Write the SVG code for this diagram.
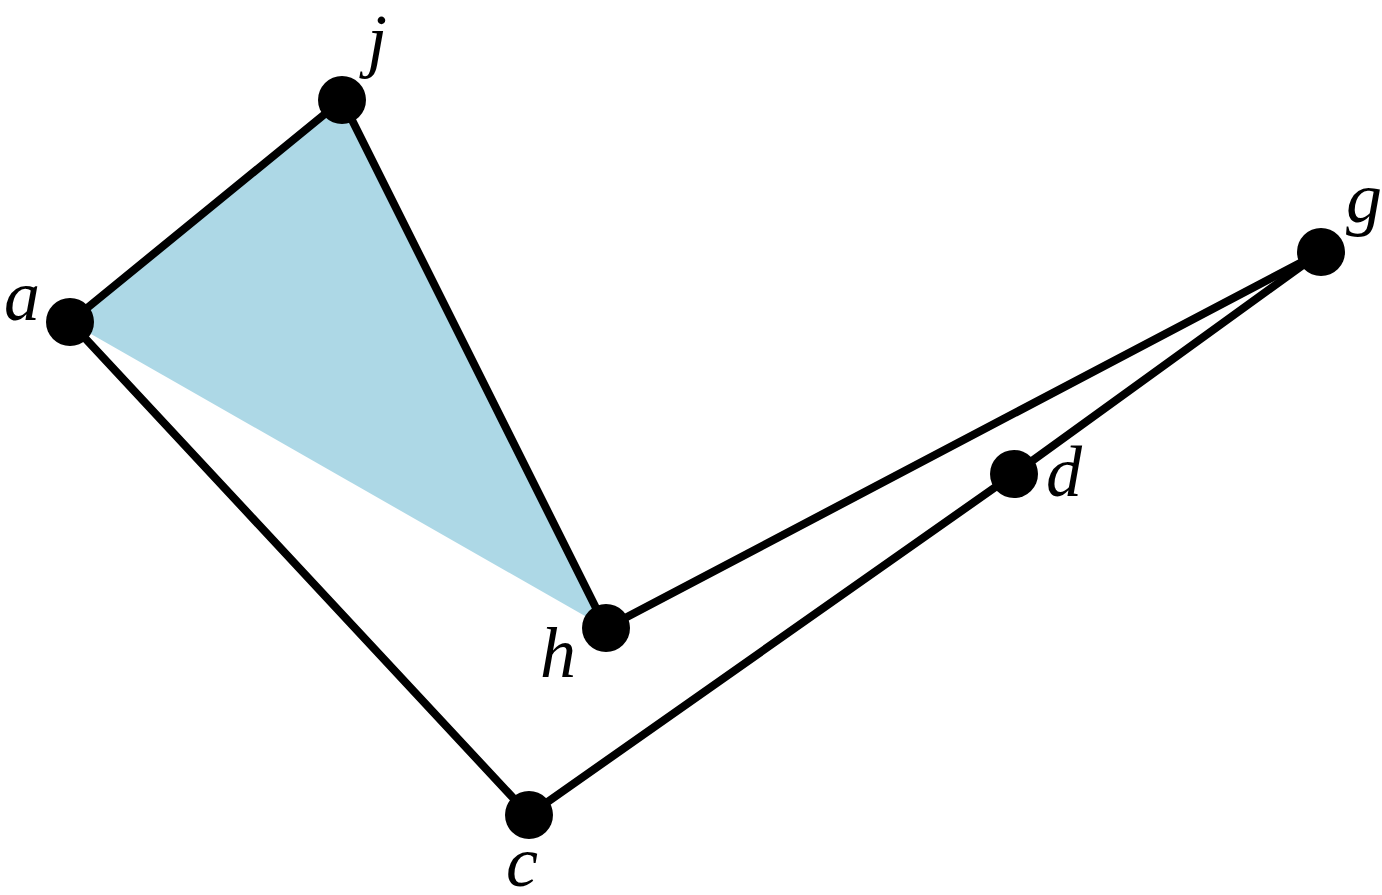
<svg xmlns="http://www.w3.org/2000/svg" width="1382" height="895" viewBox="0 0 1382 895">
<style>
.edge{stroke:#000;stroke-width:8;fill:none;stroke-linecap:round}
.pt{fill:#000}
.lbl{font-family:"Liberation Serif","Times New Roman",serif;font-style:italic;font-size:72px;fill:#000;text-anchor:middle}
</style>
<rect width="1382" height="895" fill="#fff"/>
<polygon points="70,322 342,100 606,628" fill="#add8e6"/>
<g id="connectors">
<line class="edge" x1="70" y1="322" x2="342" y2="100"/>
<line class="edge" x1="342" y1="100" x2="606" y2="628"/>
<line class="edge" x1="606" y1="628" x2="1321" y2="252"/>
<line class="edge" x1="1321" y1="252" x2="1014" y2="474"/>
<line class="edge" x1="1014" y1="474" x2="529" y2="815"/>
<line class="edge" x1="529" y1="815" x2="70" y2="322"/>
</g>
<g id="node-a"><circle class="pt" cx="70" cy="322" r="24"/><text class="lbl" x="22" y="320">a</text></g>
<g id="node-j"><circle class="pt" cx="342" cy="100" r="24"/><text class="lbl" x="377" y="64">j</text></g>
<g id="node-g"><circle class="pt" cx="1321" cy="252" r="24"/><text class="lbl" x="1364" y="222">g</text></g>
<g id="node-d"><circle class="pt" cx="1014" cy="474" r="24"/><text class="lbl" x="1064" y="496">d</text></g>
<g id="node-h"><circle class="pt" cx="606" cy="628" r="24"/><text class="lbl" x="558" y="677">h</text></g>
<g id="node-c"><circle class="pt" cx="529" cy="815" r="24"/><text class="lbl" x="522" y="886">c</text></g>
</svg>
